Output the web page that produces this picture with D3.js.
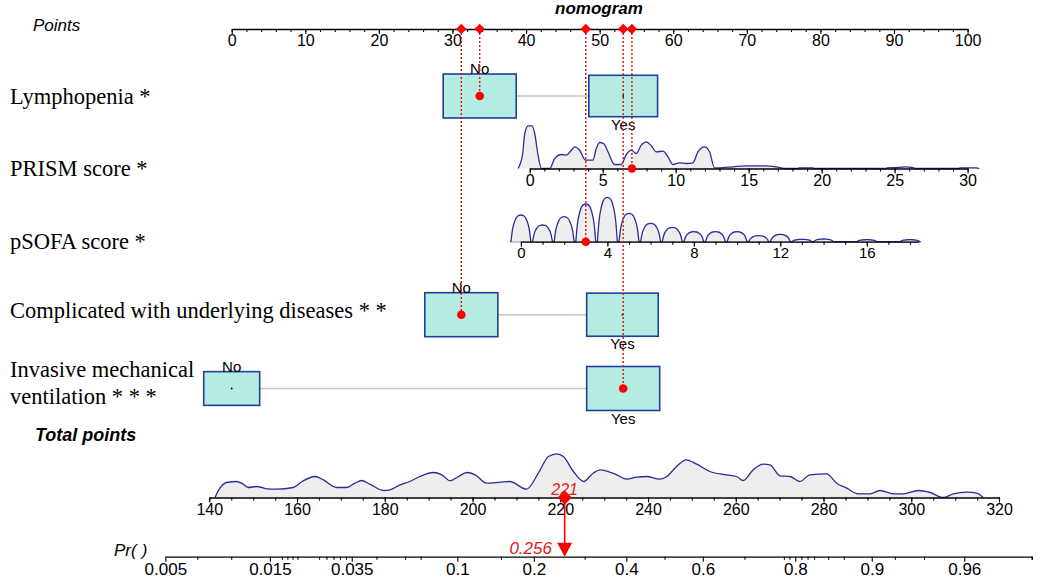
<!DOCTYPE html>
<html><head><meta charset="utf-8">
<script src="https://cdn.jsdelivr.net/npm/d3@7"></script>
<style>body{margin:0;background:#fff}</style>
</head><body>
<svg id="c" width="1040" height="580"></svg>
<script>
// ---------------- DATA ----------------
const title = "nomogram";
const rowLabels = ["Lymphopenia *", "PRISM score *", "pSOFA score *", "Complicated with underlying diseases * *", ["Invasive mechanical", "ventilation * * *"]];

const pointTicks = [0,10,20,30,40,50,60,70,80,90,100];

const lymphLevels = ["No","Yes"], lymphPoints = [33.7, 53.2], lymphFreq = [0.53, 0.47];
const compLevels  = ["No","Yes"], compPoints  = [31.2, 53.1], compFreq  = [0.51, 0.49];
const ventLevels  = ["No","Yes"], ventPoints  = [0, 53.2],    ventFreq  = [0.37, 0.63];

const prismValueRange = [0, 30], prismPointRange = [40.5, 100];
const prismTicks = [0,5,10,15,20,25,30];
const prismDensity = [[-0.8,0],[-0.5,13.3],[-0.34,35],[-0.11,42.7],[0.16,42.7],[0.34,35],[0.57,13.3],[0.8,0],[1.37,0],[1.71,10],[2.17,14],[2.51,13.3],[2.85,18.3],[3.08,21.7],[3.42,18.3],[3.83,8.3],[4.33,8.3],[4.56,20],[4.79,26],[5.06,25],[5.36,16.7],[5.82,4],[6.27,4],[6.62,14],[6.96,18.3],[7.3,15],[7.64,23.3],[7.99,26.7],[8.33,22.7],[8.67,16.7],[9.13,17.3],[9.47,11.7],[9.81,4],[10.27,5.7],[10.72,5],[11.18,5.7],[11.52,16.7],[11.98,21.7],[12.32,16.7],[12.66,0.7],[13.0,0.7],[13.92,1.7],[14.83,2.7],[16.2,2.7],[16.88,1.7],[17.57,0],[18.36,0],[18.48,0.7],[19.39,0.7],[19.5,0],[24.4,0],[24.5,0.7],[25.3,1],[25.8,1.7],[26.2,1],[26.5,0],[29.4,0],[29.5,0.7],[30.6,0.7],[30.8,0]];

const psofaValueRange = [0, 16], psofaPointRange = [39.3, 86.3];
const psofaAxisMax = 18.4;
const psofaTicks = [0,4,8,12,16];
const psofaScores = [0,1,2,3,4,5,6,7,8,9,10,11,12,13,14,16,18];
const psofaDensity = [26.7,16.7,25,37.7,44.3,28.3,18.3,14.3,10,10,10,6,7.3,2.3,2.7,2,2];

const totalTicks = [140,160,180,200,220,240,260,280,300,320];
const totalDensity = [[141.3,0],[142.4,9.3],[144.0,15],[146.2,16],[147.4,14.3],[148.9,10],[150.8,11],[153.1,8.7],[155.4,8.3],[159.1,10],[161.4,16.7],[164.1,21],[166.0,17.7],[169.0,10],[171.3,10],[173.2,14.3],[174.7,17],[176.6,13.3],[179.7,7],[181.2,7.7],[183.5,12.7],[185.7,16],[188.0,21],[191.1,25],[193.0,22.7],[194.9,16.7],[196.8,21],[198.7,25],[200.6,22.7],[203.2,14.3],[206.3,15.3],[208.5,16],[212.3,8.3],[215.0,24.3],[217.3,41],[219.2,43.7],[220.7,41],[223.0,26],[225.3,16],[227.5,24.3],[229.1,27.7],[232.9,22.7],[235.1,18.3],[237.4,20.3],[239.7,21],[242.7,18.3],[244.3,21],[246.5,31],[248.7,37.7],[251.1,33.3],[254.1,26],[257.9,22.7],[260.2,21],[261.7,17],[264.0,27.7],[266.3,33.3],[267.8,32.7],[270.1,21.7],[272.4,21],[274.6,16],[276.9,22.7],[280.7,23.7],[283.0,14.3],[285.3,9.3],[287.9,3.7],[290.6,3.7],[292.9,7],[295.9,3.7],[298.2,3.7],[301.6,7],[304.3,5],[307.3,0],[309.6,3.7],[312.7,5.3],[314.9,4.3],[316.4,0]];

const prTicks = [0.005,0.015,0.035,0.1,0.2,0.4,0.6,0.8,0.9,0.96];
const prLabels = ["0.005","0.015","0.035","0.1","0.2","0.4","0.6","0.8","0.9","0.96"];
const prMinor = [0.007,0.01,0.017,0.018,0.019,0.02,0.025,0.027,0.029,0.031,0.033,0.045,0.06,0.07,0.15,0.3,0.5,0.7,0.78,0.79,0.81,0.82,0.83,0.85,0.87,0.92,0.94,0.98];
const linkIntercept = -11.34, linkSlope = 0.04652;   // linear predictor = a + b * total points
const totalAxisMax = 327.5;

// patient
const patientLymph = "No", patientPrism = 7, patientPsofa = 3, patientComp = "No", patientVent = "Yes";
const patientTotal = 221, patientProb = 0.256;

// ---------------- DRAW ----------------
const SANS = "'Liberation Sans', Arial, sans-serif";
const SERIF = "'Liberation Serif', 'Times New Roman', serif";
const svg = d3.select("#c");
const BOXFILL = "#b4ece2", BOXSTROKE = "#1f3f9f", DENS = "#2b2b9a", RED = "#ff0000", DOT = "#dd1111";

const xPts = d3.scaleLinear().domain([0,100]).range([231.7, 967.6]);
const xTot = d3.scaleLinear().domain([140,320]).range([209.3, 999]);
const prismPts = d3.scaleLinear().domain(prismValueRange).range(prismPointRange);
const psofaPts = d3.scaleLinear().domain(psofaValueRange).range(psofaPointRange);
const xPrism = d3.scaleLinear().domain(prismValueRange).range(prismValueRange.map(v => xPts(prismPts(v))));
const xPsofa = d3.scaleLinear().domain([0, psofaAxisMax]).range([xPts(psofaPts(0)), xPts(psofaPts(psofaAxisMax))]);
const lp = t => linkIntercept + linkSlope * t;
const logit = p => Math.log(p / (1 - p));
const xPrFull = d3.scaleLinear().domain([lp(140), lp(320)]).range(xTot.range());
const xPr = xPrFull.copy().domain([logit(prTicks[0]), lp(totalAxisMax)]).range([xPrFull(logit(prTicks[0])), xPrFull(lp(totalAxisMax))]);
const yDens = d3.scaleLinear().domain([0, 45]).range([0, 45]);

const Y = {top: 29, lymph: 96, prism: 168.5, psofa: 241.7, comp: 314.7, vent: 388.5, total: 497.5, pr: 556.7};

function styleAxis(g, fs) {
  g.selectAll("path.domain").attr("stroke", "#000").attr("stroke-width", 1.3);
  g.selectAll(".tick line").attr("stroke", "#000").attr("stroke-width", 1.1);
  g.selectAll("text").attr("font-family", SANS).attr("font-size", fs).attr("fill", "#000");
}
function drawAxis(scale, y, majors, minors, fmt, fs) {
  const gm = svg.append("g").attr("transform", `translate(0,${y})`)
    .call(d3.axisBottom(scale).tickValues(minors).tickSize(3).tickSizeOuter(0).tickFormat(""));
  styleAxis(gm, fs);
  const g = svg.append("g").attr("transform", `translate(0,${y})`)
    .call(d3.axisBottom(scale).tickValues(majors).tickSize(5).tickSizeOuter(0).tickPadding(1).tickFormat(fmt));
  styleAxis(g, fs);
  g.select("path.domain").remove();
  return g;
}

// Titles / labels
svg.append("text").attr("x", 599).attr("y", 14).attr("text-anchor", "middle")
  .attr("font-family", SANS).attr("font-size", 17).attr("font-weight", "bold").attr("font-style", "italic").text(title);
svg.append("text").attr("x", 33).attr("y", 31).attr("font-family", SANS).attr("font-size", 17).attr("font-style", "italic").text("Points");
svg.append("text").attr("x", 35).attr("y", 441).attr("font-family", SANS).attr("font-size", 18).attr("font-weight", "bold").attr("font-style", "italic").text("Total points");
const pr = svg.append("text").attr("x", 114).attr("y", 556).attr("font-family", SANS).attr("font-size", 17).attr("font-style", "italic");
pr.append("tspan").text("Pr(");
pr.append("tspan").attr("dx", 5).text(")");

const labelY = [104, 176, 249, 318, [377, 404]];
rowLabels.forEach((t, i) => {
  const lines = Array.isArray(t) ? t : [t];
  const ys = Array.isArray(labelY[i]) ? labelY[i] : [labelY[i]];
  lines.forEach((ln, j) => svg.append("text").attr("x", 10).attr("y", ys[j])
    .attr("font-family", SERIF).attr("font-size", 22.5).text(ln));
});

// Points axis
drawAxis(xPts, Y.top, pointTicks, d3.range(0, 101, 2), d => d, 16);

// Categorical rows
function catRow(levels, pts, freq, y, chosen) {
  const maxF = d3.max(freq);
  const xs = pts.map(p => xPts(p));
  svg.append("line").attr("x1", xs[0]).attr("x2", xs[1]).attr("y1", y).attr("y2", y)
    .attr("stroke", "#c4c4c4").attr("stroke-width", 1.5);
  levels.forEach((lv, i) => {
    const k = Math.sqrt(freq[i] / maxF);
    const w = 73 * k, h = 44 * k;
    svg.append("rect").attr("x", xs[i] - w/2).attr("y", y - h/2).attr("width", w).attr("height", h)
      .attr("fill", BOXFILL).attr("stroke", BOXSTROKE).attr("stroke-width", 1.6);
    svg.append("circle").attr("cx", xs[i]).attr("cy", y).attr("r", 0.9).attr("fill", "#000");
    const isNo = i === 0;
    svg.append("text").attr("x", xs[i]).attr("y", isNo ? y - h/2 : y + h/2 + 13)
      .attr("text-anchor", "middle").attr("font-family", SANS).attr("font-size", 15).text(lv);
  });
  return xs[levels.indexOf(chosen)];
}
const xLymph = catRow(lymphLevels, lymphPoints, lymphFreq, Y.lymph, patientLymph);
const xComp = catRow(compLevels, compPoints, compFreq, Y.comp, patientComp);
const xVent = catRow(ventLevels, ventPoints, ventFreq, Y.vent, patientVent);

// PRISM density + axis
const areaP = d3.area().x(d => xPrism(d[0])).y0(Y.prism).y1(d => Y.prism - yDens(d[1])).curve(d3.curveMonotoneX);
const lineP = d3.line().x(d => xPrism(d[0])).y(d => Y.prism - yDens(d[1])).curve(d3.curveMonotoneX);
svg.append("path").attr("d", areaP(prismDensity)).attr("fill", "#eeeeee");
svg.append("path").attr("d", lineP(prismDensity)).attr("fill", "none").attr("stroke", DENS).attr("stroke-width", 1.3);
drawAxis(xPrism, Y.prism, prismTicks, d3.range(0, 31, 1), d => d, 16);

// pSOFA density (one hump per observed score) + axis
const hump = [[-0.46,0],[-0.39,0.45],[-0.27,0.8],[-0.13,0.97],[0,1],[0.13,0.97],[0.27,0.8],[0.39,0.45],[0.46,0]];
const humpLine = d3.line().curve(d3.curveMonotoneX);
svg.append("line").attr("x1", xPsofa(-0.5)).attr("x2", xPsofa(18.5)).attr("y1", Y.psofa).attr("y2", Y.psofa)
  .attr("stroke", DENS).attr("stroke-width", 1.3);
psofaScores.forEach((s, i) => {
  const pts = hump.map(([o, f]) => [xPsofa(s + o), Y.psofa - yDens(psofaDensity[i] * f)]);
  svg.append("path").attr("d", humpLine(pts) + "Z").attr("fill", "#eeeeee").attr("stroke", "none");
  svg.append("path").attr("d", humpLine(pts)).attr("fill", "none").attr("stroke", DENS).attr("stroke-width", 1.3);
});
drawAxis(xPsofa, Y.psofa, psofaTicks, d3.range(0, 19, 1), d => d, 15);

// Total density + axis
const areaT = d3.area().x(d => xTot(d[0])).y0(Y.total).y1(d => Y.total - yDens(d[1])).curve(d3.curveMonotoneX);
const lineT = d3.line().x(d => xTot(d[0])).y(d => Y.total - yDens(d[1])).curve(d3.curveMonotoneX);
svg.append("path").attr("d", areaT(totalDensity)).attr("fill", "#eeeeee");
svg.append("path").attr("d", lineT(totalDensity)).attr("fill", "none").attr("stroke", DENS).attr("stroke-width", 1.3);
drawAxis(xTot, Y.total, totalTicks, d3.range(140, 321, 5), d => d, 16);

// Probability axis
drawAxis(xPr, Y.pr, prTicks.map(logit), prMinor.map(logit).concat([lp(totalAxisMax)]), (d, i) => prLabels[i], 17);

// Patient: dotted projection lines + points
const xPrismPt = xPrism(patientPrism), xPsofaPt = xPsofa(patientPsofa);
const proj = [[xLymph, Y.lymph], [xPrismPt, Y.prism], [xPsofaPt, Y.psofa], [xComp, Y.comp], [xVent, Y.vent]];
proj.forEach(([x, y]) => {
  svg.append("line").attr("x1", x).attr("x2", x).attr("y1", Y.top).attr("y2", y)
    .attr("stroke", DOT).attr("stroke-width", 1.4).attr("stroke-dasharray", "2,2");
});
proj.forEach(([x, y]) => {
  svg.append("circle").attr("cx", x).attr("cy", y).attr("r", 4.3).attr("fill", RED);
  svg.append("path").attr("d", d3.symbol(d3.symbolDiamond2, 70)()).attr("transform", `translate(${x},${Y.top})`).attr("fill", RED);
});

// Total -> probability arrow
const xT = xTot(patientTotal);
svg.append("line").attr("x1", xT).attr("x2", xT).attr("y1", Y.total).attr("y2", Y.pr - 12).attr("stroke", RED).attr("stroke-width", 1.6);
svg.append("path").attr("d", d3.symbol(d3.symbolDiamond2, 130)()).attr("transform", `translate(${xT},${Y.total})`).attr("fill", RED);
svg.append("path").attr("d", `M${xT-7.5},${Y.pr-14}L${xT+7.5},${Y.pr-14}L${xT},${Y.pr}Z`).attr("fill", RED);
svg.append("text").attr("x", xT).attr("y", Y.total - 3).attr("text-anchor", "middle")
  .attr("font-family", SANS).attr("font-size", 16).attr("font-style", "italic").attr("fill", "#e02020").text(patientTotal);
svg.append("text").attr("x", xPr(logit(patientProb)) - 12).attr("y", Y.pr - 3).attr("text-anchor", "end")
  .attr("font-family", SANS).attr("font-size", 17).attr("font-style", "italic").attr("fill", "#e02020").text(patientProb);
</script>
</body></html>
